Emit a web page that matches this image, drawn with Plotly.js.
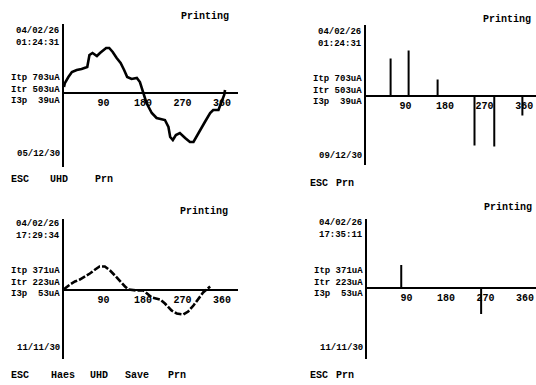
<!DOCTYPE html>
<html><head><meta charset="utf-8">
<script src="https://cdn.plot.ly/plotly-3.0.1.min.js"></script>
<style>html,body{margin:0;padding:0;background:#fff;overflow:hidden}</style>
</head><body><div id="chart" style="width:536px;height:385px"></div>
<script>
// ---- data ----
const tickVals = [90, 180, 270, 360];
const tickText = ['90', '180', '270', '360'];

// panel 1 (top-left): waveform, phase angle (deg) vs amplitude
const p1Angle = [0, 2, 10, 18, 29, 40, 53, 58, 65, 75, 82, 90, 96, 103, 111, 120, 129, 137, 144, 154, 166, 173, 177, 182, 188, 200, 211, 230, 238, 242, 248, 255, 264, 276, 287, 295, 302, 310, 321, 333, 340, 352, 359, 365, 367];
const p1Value = [6, 10, 16, 21, 23, 24, 26, 38, 40, 37, 40, 43, 45, 45, 41, 35, 30, 23, 16, 14, 15, 11, 5, 0, -10, -20, -25, -27, -34, -44, -47, -42, -40, -45, -49, -49, -44, -37, -29, -20, -17, -17, -9, -2, 3];

// panel 2 (top-right): pulse spectrum
const p2Angle = [56, 97, 163, 247, 292, 356];
const p2Value = [37, 45, 16, -50, -51, -20];

// panel 3 (bottom-left): waveform
const p3Angle = [0, 2, 14, 25, 36, 48, 59, 71, 81, 93, 105, 116, 128, 139, 147, 165, 181, 200, 219, 230, 245, 257, 272, 283, 295, 306, 317, 325, 333];
const p3Value = [0, 1, 5, 8, 10, 13, 16, 20, 23, 23, 19, 14, 8, 3, 0, -1, -1, -8, -10, -14, -21, -24, -25, -22, -16, -9, -3, 0, 3];

// panel 4 (bottom-right): pulse spectrum
const p4Angle = [78, 260];
const p4Value = [23, -26];

// text content
const p1Stamp = ['04/02/26', '01:24:31'];
const p2Stamp = ['04/02/26', '01:24:31'];
const p3Stamp = ['04/02/26', '17:29:34'];
const p4Stamp = ['04/02/26', '17:35:11'];
const p1Currents = ['Itp 703uA', 'Itr 503uA', 'I3p  39uA'];
const p2Currents = ['Itp 703uA', 'Itr 503uA', 'I3p  39uA'];
const p3Currents = ['Itp 371uA', 'Itr 223uA', 'I3p  53uA'];
const p4Currents = ['Itp 371uA', 'Itr 223uA', 'I3p  53uA'];
const p1Date = '05/12/30';
const p2Date = '09/12/30';
const p3Date = '11/11/30';
const p4Date = '11/11/30';
const statusText = 'Printing';
const menuTop1 = ['ESC', 'UHD', 'Prn'];
const menuTop2 = ['ESC', 'Prn'];
const menuBot1 = ['ESC', 'Haes', 'UHD', 'Save', 'Prn'];
const menuBot2 = ['ESC', 'Prn'];

// ---- layout helpers ----
const W = 536, H = 385;
const FAMILY = 'Liberation Mono, DejaVu Sans Mono, monospace';
const FONT = {family: FAMILY, size: 10, color: '#000', weight: 'bold'};
const FONT_SM = {family: FAMILY, size: 9, color: '#000', weight: 'bold'};
const px = v => v / W;
const py = v => 1 - v / H;

function spikes(angles, values) {
  const x = [], y = [];
  angles.forEach((a, i) => { x.push(a, a, null); y.push(0, values[i], null); });
  return {x, y};
}

const s2 = spikes(p2Angle, p2Value);
const s4 = spikes(p4Angle, p4Value);

const traces = [
  {x: p1Angle, y: p1Value, xaxis: 'x', yaxis: 'y', mode: 'lines', line: {color: '#000', width: 2.6}, hoverinfo: 'skip'},
  {x: s2.x, y: s2.y, xaxis: 'x2', yaxis: 'y2', mode: 'lines', line: {color: '#000', width: 2}, hoverinfo: 'skip'},
  {x: p3Angle, y: p3Value, xaxis: 'x3', yaxis: 'y3', mode: 'lines', line: {color: '#000', width: 2.6, dash: '7px,2px'}, hoverinfo: 'skip'},
  {x: s4.x, y: s4.y, xaxis: 'x4', yaxis: 'y4', mode: 'lines', line: {color: '#000', width: 2}, hoverinfo: 'skip'}
];

// panel geometry (pixels)
const panels = [
  {left: 64, right: 238, top: 24, bottom: 167, zero: 93, xmax: 396.5},
  {left: 366, right: 536, top: 25, bottom: 165, zero: 95.5, xmax: 387},
  {left: 64, right: 238, top: 218.7, bottom: 358.7, zero: 289.5, xmax: 396.5},
  {left: 367, right: 536, top: 218.7, bottom: 358.7, zero: 288, xmax: 385}
];

const layout = {
  width: W, height: H,
  margin: {l: 0, r: 0, t: 0, b: 0, pad: 0},
  paper_bgcolor: '#fff', plot_bgcolor: '#fff',
  showlegend: false,
  font: FONT,
  annotations: []
};

panels.forEach((p, i) => {
  const n = i === 0 ? '' : String(i + 1);
  layout['xaxis' + n] = {
    domain: [px(p.left), px(p.right)],
    range: [0, p.xmax],
    anchor: 'free',
    position: py(p.zero),
    showline: true, linecolor: '#000', linewidth: 2,
    showgrid: false, zeroline: false,
    ticks: '', tickvals: tickVals, ticktext: tickText,
    tickfont: FONT, ticklabelstandoff: 0,
    fixedrange: true
  };
  layout['yaxis' + n] = {
    domain: [py(p.bottom), py(p.top)],
    range: [-(p.bottom - p.zero), p.zero - p.top],
    anchor: 'x' + n,
    showline: true, linecolor: '#000', linewidth: 2,
    showgrid: false, zeroline: false, showticklabels: false, ticks: '',
    fixedrange: true
  };
});

function addText(text, x, y, anchor, font) {
  layout.annotations.push({text: text, x: px(x), y: py(y), xref: 'paper', yref: 'paper',
    xanchor: anchor || 'center', yanchor: 'middle', align: anchor || 'center',
    showarrow: false, font: font || FONT, borderpad: 0});
}

// left label blocks
const labelSets = [
  {stamp: p1Stamp, cur: p1Currents, date: p1Date, right: 61, yStamp: 37, yCur: 90, yDate: 154},
  {stamp: p2Stamp, cur: p2Currents, date: p2Date, right: 363, yStamp: 38, yCur: 90.5, yDate: 156},
  {stamp: p3Stamp, cur: p3Currents, date: p3Date, right: 61, yStamp: 229.5, yCur: 282.5, yDate: 348},
  {stamp: p4Stamp, cur: p4Currents, date: p4Date, right: 364, yStamp: 228.5, yCur: 282, yDate: 348}
];
labelSets.forEach(s => {
  addText(s.stamp.join('<br>'), s.right, s.yStamp, 'right', FONT_SM);
  addText(s.cur.join('<br>'), s.right, s.yCur, 'right', FONT_SM);
  addText(s.date, s.right, s.yDate, 'right', FONT_SM);
});

addText(statusText, 205, 16);
addText(statusText, 507, 19);
addText(statusText, 204, 212);
addText(statusText, 508, 208);

[20, 59, 104].forEach((x, i) => addText(menuTop1[i], x, 179));
[319, 345].forEach((x, i) => addText(menuTop2[i], x, 183));
[20, 63, 99, 137, 177].forEach((x, i) => addText(menuBot1[i], x, 375));
[319, 345].forEach((x, i) => addText(menuBot2[i], x, 375));

Plotly.newPlot('chart', traces, layout, {staticPlot: true, displayModeBar: false});
</script>
</body></html>
